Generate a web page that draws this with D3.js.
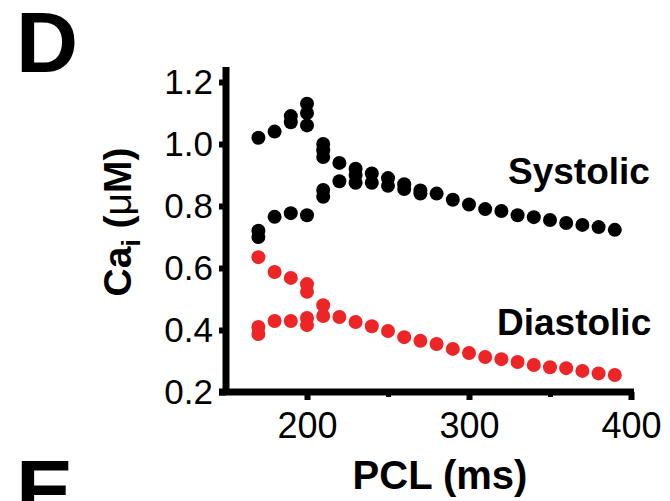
<!DOCTYPE html>
<html>
<head>
<meta charset="utf-8">
<script src="https://cdn.jsdelivr.net/npm/d3@7"></script>
<style>
  body { margin: 0; background: #fff; }
  svg { display: block; font-family: "Liberation Sans", Arial, sans-serif; }
</style>
</head>
<body>
<div id="chart"></div>
<script>
// datos ------------------------------------------------------
var systolicPCL = [170, 170, 170, 180, 180, 190, 190, 190, 200, 200, 200, 200,
  210, 210, 210, 210, 210, 220, 220, 230, 230, 230, 240, 240, 250, 250, 260, 260,
  270, 270, 280, 290, 300, 310, 320, 330, 340, 350, 360, 370, 380, 390];
var systolicCa = [1.02, 0.72, 0.70, 1.04, 0.765, 1.09, 1.07, 0.777, 1.13, 1.10, 1.06, 0.77,
  1.00, 0.98, 0.958, 0.852, 0.83, 0.939, 0.88, 0.92, 0.90, 0.875, 0.905, 0.875, 0.89, 0.865, 0.87, 0.855,
  0.85, 0.84, 0.84, 0.82, 0.805, 0.79, 0.784, 0.77, 0.764, 0.755, 0.745, 0.739, 0.732, 0.723];

var diastolicPCL = [170, 170, 170, 180, 180, 190, 190, 200, 200, 200, 200, 210, 210,
  220, 230, 240, 250, 260, 270, 280, 290, 300, 310, 320, 330, 340, 350, 360, 370, 380, 390];
var diastolicCa = [0.635, 0.41, 0.387, 0.587, 0.429, 0.568, 0.429, 0.548, 0.523, 0.439, 0.416, 0.48, 0.445,
  0.442, 0.426, 0.412, 0.397, 0.377, 0.365, 0.355, 0.339, 0.326, 0.313, 0.306, 0.297, 0.287, 0.28, 0.277, 0.268, 0.26, 0.255];

var yTicks = [0.2, 0.4, 0.6, 0.8, 1.0, 1.2];
var xTicks = [200, 300, 400];
var xMinorTicks = [250, 350];

var width = 670, height = 501;

var svg = d3.select("#chart")
  .append("svg")
  .attr("width", width)
  .attr("height", height);

// Escaladores
var x = d3.scaleLinear().domain([150, 400]).range([226, 631]);
var y = d3.scaleLinear().domain([0.2, 1.2]).range([392, 82]);

// Eje Y
var yAxis = svg.append("g")
  .attr("transform", "translate(226,0)")
  .call(d3.axisLeft(y).tickValues(yTicks).tickSize(7).tickSizeOuter(0).tickPadding(6)
    .tickFormat(d3.format(".1f")));
yAxis.select(".domain").remove();
yAxis.append("line")
  .attr("x1", 0).attr("x2", 0)
  .attr("y1", y(1.248)).attr("y2", y(0.2))
  .attr("stroke", "#000").attr("stroke-width", 7);
yAxis.selectAll(".tick line").attr("stroke-width", 6);
yAxis.selectAll(".tick text")
  .attr("font-size", "35px")
  .attr("fill", "#000");

// Eje X
var xAxis = svg.append("g")
  .attr("transform", "translate(0,392)")
  .call(d3.axisBottom(x).tickValues(xTicks).tickSize(8).tickSizeOuter(0).tickPadding(12));
xAxis.select(".domain").remove();
xAxis.append("line")
  .attr("x1", 219).attr("x2", x(400) + 3)
  .attr("y1", 0).attr("y2", 0)
  .attr("stroke", "#000").attr("stroke-width", 7);
xAxis.selectAll(".tick line").attr("stroke-width", 6);
xAxis.selectAll(".tick text")
  .attr("font-size", "36px")
  .attr("fill", "#000");

// ticks menores
var xMinor = svg.append("g")
  .attr("transform", "translate(0,392)")
  .call(d3.axisBottom(x).tickValues(xMinorTicks).tickSize(5).tickFormat(""));
xMinor.select(".domain").remove();
xMinor.selectAll(".tick line").attr("stroke-width", 5);

// Titulo eje X
svg.append("text")
  .attr("x", 440)
  .attr("y", 489)
  .attr("text-anchor", "middle")
  .attr("font-size", "40px")
  .attr("font-weight", "bold")
  .text("PCL (ms)");

// Titulo eje Y
var yLabel = svg.append("text")
  .attr("transform", "translate(131,222) rotate(-90)")
  .attr("text-anchor", "middle")
  .attr("font-size", "39px")
  .attr("font-weight", "bold");
yLabel.append("tspan").text("Ca");
yLabel.append("tspan").attr("font-size", "26px").attr("dy", 9).text("i");
yLabel.append("tspan").attr("dy", -9).text(" (");
yLabel.append("tspan").attr("font-weight", "normal").text("\u03bc");
yLabel.append("tspan").text("M)");

// Letras del panel
svg.append("text")
  .attr("x", 16).attr("y", 72)
  .attr("font-size", "86px").attr("font-weight", "bold")
  .text("D");
svg.append("text")
  .attr("x", 16).attr("y", 520)
  .attr("font-size", "86px").attr("font-weight", "bold")
  .text("E");

// Etiquetas de series
svg.append("text")
  .attr("x", 508).attr("y", 184)
  .attr("font-size", "37px").attr("font-weight", "bold")
  .text("Systolic");
svg.append("text")
  .attr("x", 497).attr("y", 335)
  .attr("font-size", "37px").attr("font-weight", "bold")
  .text("Diastolic");

// Puntos
var chart = svg.append("g");

chart.selectAll("circle.sys")
  .data(d3.range(systolicPCL.length))
  .enter()
  .append("circle")
  .attr("class", "sys")
  .attr("cx", function (i) { return x(systolicPCL[i]); })
  .attr("cy", function (i) { return y(systolicCa[i]); })
  .attr("r", 7)
  .style("fill", "#000");

chart.selectAll("circle.dia")
  .data(d3.range(diastolicPCL.length))
  .enter()
  .append("circle")
  .attr("class", "dia")
  .attr("cx", function (i) { return x(diastolicPCL[i]); })
  .attr("cy", function (i) { return y(diastolicCa[i]); })
  .attr("r", 7)
  .style("fill", "#ee2527");
</script>
</body>
</html>
